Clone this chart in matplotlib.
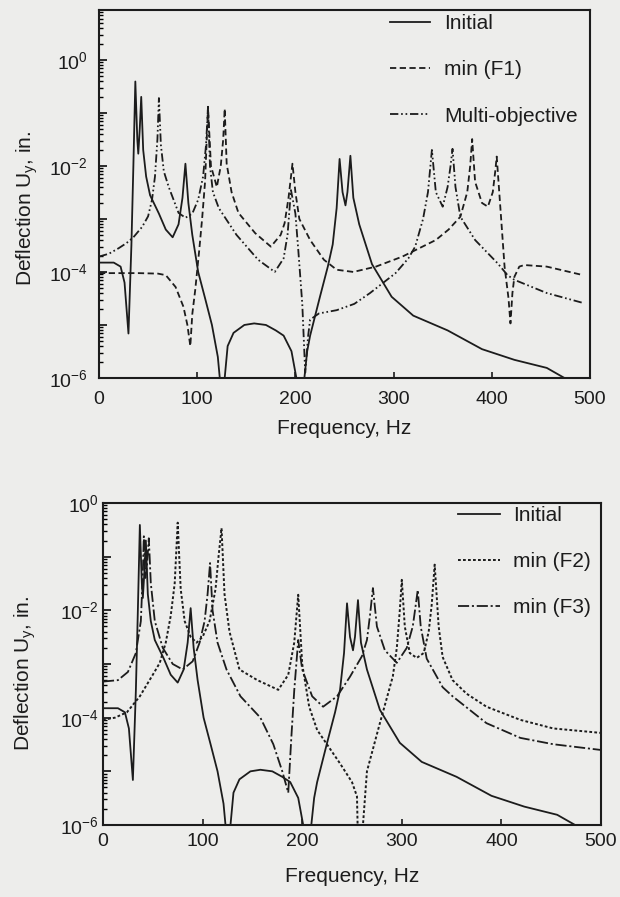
import math
import matplotlib
matplotlib.use("Agg")
import matplotlib.pyplot as plt
import matplotlib.ticker as mticker

plt.rcParams["font.family"] = ["Liberation Sans", "DejaVu Sans"]
plt.rcParams["mathtext.fontset"] = "custom"
plt.rcParams["mathtext.rm"] = "Liberation Sans"
plt.rcParams["mathtext.default"] = "regular"
plt.rcParams["lines.scale_dashes"] = False

# ---- data (frequency in Hz, deflection in in.) ----
init_f = [0, 15, 22, 26, 30, 33, 35, 37, 39, 40, 41.5, 43, 45, 48, 52, 61, 68, 75, 81, 85,
          88, 91, 95, 101, 108, 115, 121, 124, 126, 128, 131, 137, 148, 158, 170, 180, 188,
          196, 201, 205, 208, 212, 215, 225, 233, 238, 242, 245, 248, 251, 253, 256, 259,
          265, 278, 298, 320, 355, 390, 423, 456, 474, 500]
init_u = [1.5e-4, 1.5e-4, 1.26e-4, 6.3e-5, 6.9e-6, 3.2e-4, 1e-2, 0.39, 3.2e-2, 1.7e-2, 5e-2,
          0.2, 2e-2, 6.3e-3, 2.8e-3, 1.26e-3, 6.3e-4, 4.5e-4, 7.9e-4, 2.5e-3,
          1.1e-2, 2e-3, 5e-4, 1e-4, 3.2e-5, 1e-5, 2.5e-6, 6.3e-7, 1e-8, 1e-6, 4e-6, 7.1e-6,
          1e-5, 1.07e-5, 1e-5, 7.9e-6, 6.3e-6,
          3.2e-6, 1e-6, 1e-8, 6.3e-7, 3.2e-6, 6.3e-6, 3.4e-5, 1.26e-4, 3.3e-4, 1.6e-3, 1.35e-2,
          3.2e-3, 1.8e-3, 3.2e-3, 1.55e-2, 2.5e-3,
          7.9e-4, 1.4e-4, 3.4e-5, 1.5e-5, 7.9e-6, 3.5e-6, 2.2e-6, 1.55e-6, 1e-6, 6.3e-7]

f1_f = [0, 40, 60, 68, 78, 86, 90, 93, 95, 98, 102, 105, 108, 111, 114, 120, 124, 126.5, 128,
        130, 135, 142, 159, 175, 185, 189, 193, 197, 200, 204, 215, 229, 242, 259, 282, 309,
        343, 356, 368, 375, 378, 380, 383, 390, 396, 401, 403.5, 405, 408, 413, 417, 419, 421,
        423, 428, 433, 456, 493]
f1_u = [9.5e-5, 9.5e-5, 9.3e-5, 8.7e-5, 5.2e-5, 2.2e-5, 1e-5, 4e-6, 1.6e-5, 4.6e-5, 2.5e-4,
        1e-3, 5e-3, 0.13, 1e-2, 4e-3, 1e-2, 3.2e-2, 0.12,
        1.1e-2, 3.2e-3, 1.3e-3, 5.4e-4, 3e-4, 5e-4, 8.3e-4, 2.5e-3, 1.1e-2, 3.2e-3, 1e-3,
        4e-4, 1.7e-4, 1.1e-4, 1e-4, 1.26e-4, 1.95e-4,
        4e-4, 6.3e-4, 1.1e-3, 3.2e-3, 1e-2, 3.2e-2, 5e-3, 2e-3, 1.7e-3, 3.2e-3, 7.9e-3,
        1.5e-2, 2.5e-3, 1.26e-4, 3.2e-5, 1.07e-5, 4e-5,
        8.1e-5, 1.26e-4, 1.35e-4, 1.26e-4, 8.7e-5]

multi_f = [0, 10, 20, 28, 35, 44, 50, 54, 57, 59.5, 61, 63, 66, 71, 81, 88, 95, 101, 106, 109,
           111, 113, 116, 122, 140, 162, 179, 188, 192, 195.5, 200, 203, 207, 210, 213, 215,
           224, 242, 260, 276, 302, 315, 322, 330, 335, 339, 343, 350, 355, 358, 360, 363,
           368, 383, 406, 416, 423, 456, 493]
multi_u = [1.95e-4, 2.2e-4, 2.8e-4, 3.5e-4, 4.5e-4, 7.1e-4, 1.12e-3, 2.3e-3, 6.3e-3, 3.2e-2,
           0.19, 2.5e-2, 7.9e-3, 4e-3, 1.3e-3, 1.05e-3, 1.26e-3, 2.3e-3, 6.3e-3, 2.5e-2,
           0.13, 1e-2, 3.2e-3, 1.6e-3, 5e-4, 1.7e-4, 1e-4, 1.8e-4, 5e-4, 3.5e-3, 1.26e-3,
           2.5e-4, 2.5e-5, 1.26e-6, 6.3e-6, 1.26e-5,
           1.65e-5, 1.9e-5, 2.5e-5, 4e-5, 9.5e-5, 1.8e-4, 3e-4, 1e-3, 3.2e-3, 2e-2, 3.2e-3,
           1.7e-3, 4e-3, 1e-2, 2.1e-2, 4e-3,
           1.1e-3, 4e-4, 1.45e-4, 8.7e-5, 7.1e-5, 4e-5, 2.6e-5]

f2_f = [0, 12, 24, 37, 50, 57, 63, 68, 72, 75, 78, 82, 88, 94, 100, 107, 113, 116, 119, 122,
        127, 137, 155, 176, 186, 192, 196, 200, 207, 215, 238, 250, 255, 258, 261, 265, 278,
        291, 295, 298, 300, 303, 308, 315, 322, 327, 330, 333, 337, 341, 351, 365, 385, 419,
        452, 500]
f2_u = [9.1e-5, 1e-4, 1.26e-4, 2.5e-4, 6.3e-4, 1.05e-3, 2.5e-3, 7.9e-3, 3.2e-2, 0.43, 2.5e-2,
        6.3e-3, 3.2e-3, 2.5e-3, 3.2e-3, 6.3e-3, 2.5e-2, 0.1, 0.34, 2e-2,
        4e-3, 7.9e-4, 5e-4, 3.3e-4, 6.3e-4, 2.5e-3, 1.95e-2, 1e-3, 1.6e-4, 5.9e-5, 1.4e-5,
        6.3e-6, 3.4e-6, 1e-8, 1e-6, 1e-5, 7.9e-5,
        5.9e-4, 2e-3, 1e-2, 3.7e-2, 5e-3, 1.6e-3, 1.3e-3, 1.6e-3, 4e-3, 1.26e-2, 7.1e-2, 5e-3,
        1.35e-3, 5e-4, 2.8e-4, 1.6e-4, 9.1e-5, 6.3e-5, 5.2e-5]

f3_f = [0, 15, 25, 33, 38, 40, 41, 42.5, 44, 46, 48, 52, 60, 70, 80, 90, 97, 102, 105, 107.5,
        110, 115, 124, 138, 158, 171, 180, 186, 189, 192, 196, 200, 210, 221, 235, 248, 260,
        265, 268, 271, 275, 283, 295, 305, 311, 314, 316, 319, 325, 341, 351, 385, 419, 452,
        500]
f3_u = [4.7e-4, 5e-4, 7.1e-4, 1.6e-3, 6.3e-3, 5e-2, 0.24, 4e-2, 6.3e-2, 0.22, 3.2e-2, 6.3e-3,
        2e-3, 1e-3, 7.9e-4, 1.12e-3, 2.5e-3, 6.3e-3, 2e-2, 7.6e-2,
        1e-2, 2.5e-3, 7.9e-4, 2.5e-4, 1e-4, 3.2e-5, 1e-5, 4e-6, 4e-5, 3.2e-4, 2.8e-3, 7.9e-4,
        2.5e-4, 1.6e-4, 2.5e-4, 5.8e-4, 1.4e-3,
        2.8e-3, 7.9e-3, 2.6e-2, 5e-3, 1.8e-3, 1.05e-3, 2e-3, 5e-3, 1.26e-2, 2.4e-2, 5e-3,
        1.26e-3, 3.7e-4, 2.5e-4, 7.9e-5, 4.2e-5, 3.2e-5, 2.5e-5]

x_ticks = [0, 100, 200, 300, 400, 500]

INK = "#1c1c1c"
BG = "#ededeb"
W, H = 620, 897


def rect(left, right, top, bottom):
    # pixel box -> figure fraction
    return [left / W, 1 - bottom / H, (right - left) / W, (bottom - top) / H]


def even_decades(v, _):
    e = int(round(math.log10(v)))
    return r"$10^{%d}$" % e if e % 2 == 0 else ""


def style(ax, ytop, xmax, ypad, xpad, lpad):
    ax.set_facecolor(BG)
    ax.set_yscale("log")
    ax.set_xlim(0, xmax)
    ax.set_ylim(1e-6, ytop)
    ax.set_xticks(x_ticks)
    ax.yaxis.set_major_locator(mticker.LogLocator(base=10, numticks=20))
    ax.yaxis.set_minor_locator(mticker.LogLocator(base=10, subs=range(2, 10), numticks=20))
    ax.yaxis.set_major_formatter(mticker.FuncFormatter(even_decades))
    ax.yaxis.set_minor_formatter(mticker.NullFormatter())
    ax.tick_params(axis="y", which="major", direction="in", length=6, width=1.3,
                   labelsize=14, pad=ypad, colors=INK, right=False)
    ax.tick_params(axis="y", which="minor", direction="in", length=3, width=1.0, right=False)
    ax.tick_params(axis="x", direction="in", length=4, width=1.2, labelsize=14, pad=xpad,
                   colors=INK, top=False)
    for sp in ax.spines.values():
        sp.set_linewidth(1.5)
        sp.set_color(INK)
    ax.set_xlabel("Frequency, Hz", fontsize=15, labelpad=lpad, color=INK)
    ax.set_ylabel(r"Deflection U$_{y}$, in.", fontsize=15, color=INK)


fig = plt.figure(figsize=(6.2, 8.97), dpi=100, facecolor=BG)

# top panel: initial / min(F1) / multi-objective
ax1 = fig.add_axes(rect(99, 590, 10, 378))
ax1.plot(init_f, init_u, color=INK, lw=1.3, label="Initial")
ax1.plot(f1_f, f1_u, color=INK, lw=1.3, dashes=(4.5, 2.5), label="min (F1)")
ax1.plot(multi_f, multi_u, color=INK, lw=1.3, dashes=(6, 2, 1.2, 2, 1.2, 2),
         label="Multi-objective")
style(ax1, 8.7, 493, 8, 9, 8)
ax1.yaxis.set_label_coords(-0.12, 0.46)
ax1.legend(loc="upper left", bbox_to_anchor=(0.593, 0.988), frameon=False, fontsize=15,
           handlelength=1.9, handletextpad=0.7, labelspacing=1.3, borderpad=0,
           borderaxespad=0, labelcolor=INK)

# bottom panel: initial / min(F2) / min(F3)
ax2 = fig.add_axes(rect(103, 601, 503, 825))
ax2.plot(init_f, init_u, color=INK, lw=1.3, label="Initial")
ax2.plot(f2_f, f2_u, color=INK, lw=1.4, dashes=(2, 1.6), label="min (F2)")
ax2.plot(f3_f, f3_u, color=INK, lw=1.3, dashes=(8, 2, 1.5, 2), label="min (F3)")
style(ax2, 1.0, 500, 3, 6, 12)
ax2.yaxis.set_label_coords(-0.13, 0.47)
ax2.legend(loc="upper left", bbox_to_anchor=(0.713, 0.99), frameon=False, fontsize=15,
           handlelength=2.0, handletextpad=0.62, labelspacing=1.3, borderpad=0,
           borderaxespad=0, labelcolor=INK)

fig.savefig("out.png", dpi=100, facecolor=BG)
plt.close(fig)
